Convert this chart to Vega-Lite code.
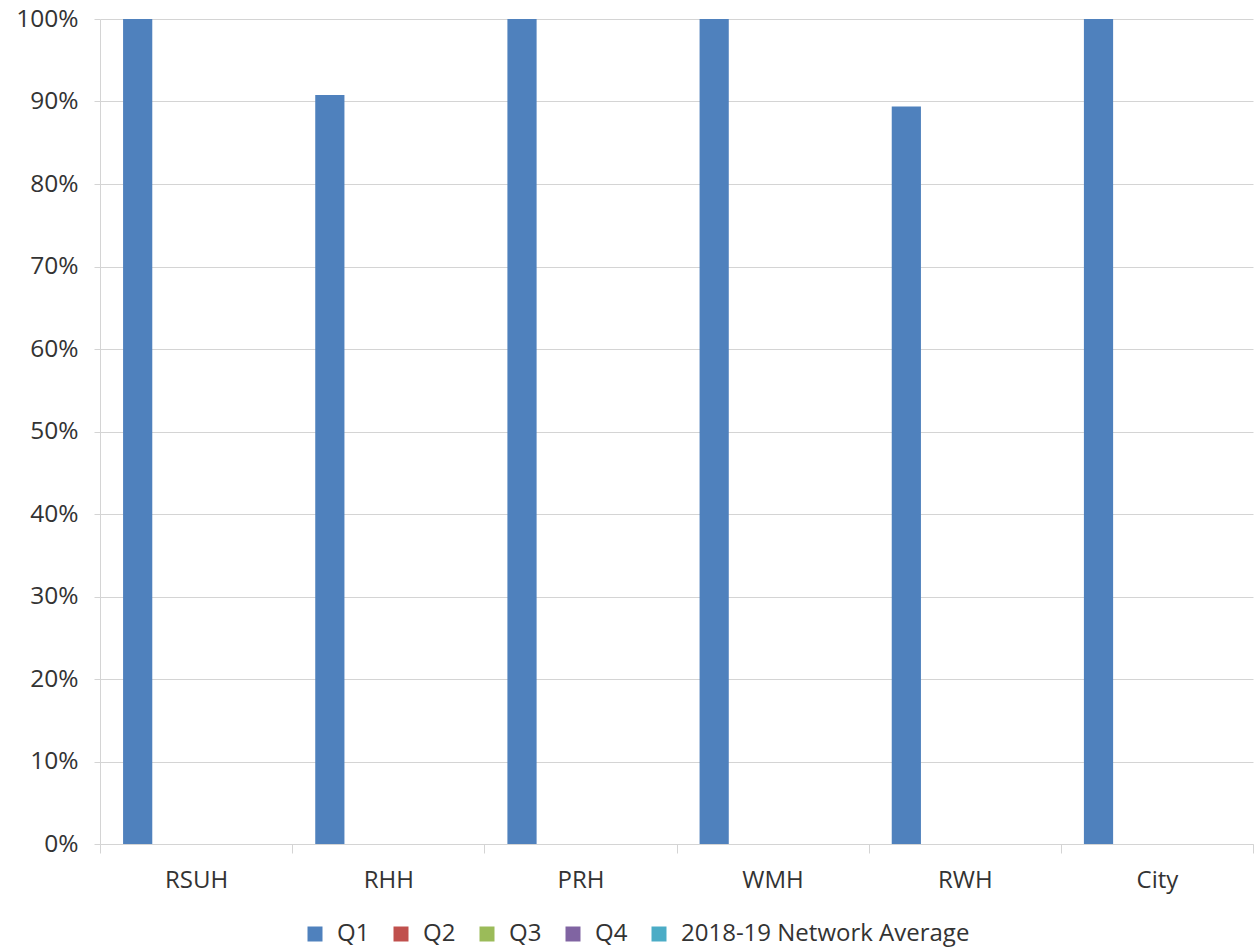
{
  "$schema": "https://vega.github.io/schema/vega-lite/v6.json",
  "width": 1153,
  "height": 825,
  "autosize": "none",
  "padding": {"left": 100, "top": 19, "right": 7, "bottom": 107},
  "background": "white",
  "config": {"font": "Open Sans", "view": {"stroke": null}},
  "data": {
    "values": [
      {"site": "RSUH", "series": "Q1", "value": 1.0},
      {"site": "RSUH", "series": "Q2", "value": 0},
      {"site": "RSUH", "series": "Q3", "value": 0},
      {"site": "RSUH", "series": "Q4", "value": 0},
      {"site": "RSUH", "series": "2018-19 Network Average", "value": 0},
      {"site": "RHH", "series": "Q1", "value": 0.908},
      {"site": "RHH", "series": "Q2", "value": 0},
      {"site": "RHH", "series": "Q3", "value": 0},
      {"site": "RHH", "series": "Q4", "value": 0},
      {"site": "RHH", "series": "2018-19 Network Average", "value": 0},
      {"site": "PRH", "series": "Q1", "value": 1.0},
      {"site": "PRH", "series": "Q2", "value": 0},
      {"site": "PRH", "series": "Q3", "value": 0},
      {"site": "PRH", "series": "Q4", "value": 0},
      {"site": "PRH", "series": "2018-19 Network Average", "value": 0},
      {"site": "WMH", "series": "Q1", "value": 1.0},
      {"site": "WMH", "series": "Q2", "value": 0},
      {"site": "WMH", "series": "Q3", "value": 0},
      {"site": "WMH", "series": "Q4", "value": 0},
      {"site": "WMH", "series": "2018-19 Network Average", "value": 0},
      {"site": "RWH", "series": "Q1", "value": 0.894},
      {"site": "RWH", "series": "Q2", "value": 0},
      {"site": "RWH", "series": "Q3", "value": 0},
      {"site": "RWH", "series": "Q4", "value": 0},
      {"site": "RWH", "series": "2018-19 Network Average", "value": 0},
      {"site": "City", "series": "Q1", "value": 1.0},
      {"site": "City", "series": "Q2", "value": 0},
      {"site": "City", "series": "Q3", "value": 0},
      {"site": "City", "series": "Q4", "value": 0},
      {"site": "City", "series": "2018-19 Network Average", "value": 0}
    ]
  },
  "mark": {"type": "bar"},
  "encoding": {
    "x": {
      "field": "site",
      "type": "nominal",
      "sort": ["RSUH", "RHH", "PRH", "WMH", "RWH", "City"],
      "scale": {"paddingInner": 0, "paddingOuter": 0},
      "axis": {
        "title": null,
        "labelAngle": 0,
        "tickBand": "extent",
        "domainColor": "#d4d4d4",
        "tickColor": "#d4d4d4",
        "tickSize": 9,
        "labelFontSize": 24,
        "labelColor": "#333333",
        "labelPadding": 15,
        "grid": false
      }
    },
    "xOffset": {
      "field": "series",
      "sort": ["Q1", "Q2", "Q3", "Q4", "2018-19 Network Average"],
      "scale": {"paddingInner": 0, "paddingOuter": 0.79}
    },
    "y": {
      "field": "value",
      "type": "quantitative",
      "scale": {"domain": [0, 1]},
      "axis": {
        "title": null,
        "format": "%",
        "values": [0, 0.1, 0.2, 0.3, 0.4, 0.5, 0.6, 0.7, 0.8, 0.9, 1.0],
        "domainColor": "#d4d4d4",
        "gridColor": "#d4d4d4",
        "grid": true,
        "tickColor": "#d4d4d4",
        "tickSize": 6,
        "labelFontSize": 24.5,
        "labelColor": "#333333",
        "labelPadding": 16
      }
    },
    "color": {
      "field": "series",
      "type": "nominal",
      "scale": {
        "domain": ["Q1", "Q2", "Q3", "Q4", "2018-19 Network Average"],
        "range": ["#4F81BD", "#C0504D", "#9BBB59", "#8064A2", "#4BACC6"]
      },
      "legend": {
        "title": null,
        "orient": "none",
        "direction": "horizontal",
        "legendX": 203,
        "legendY": 903,
        "symbolType": "square",
        "symbolSize": 225,
        "symbolStrokeWidth": 0,
        "labelFontSize": 24,
        "labelColor": "#333333",
        "labelLimit": 0,
        "columnPadding": 19,
        "labelOffset": 10
      }
    }
  }
}
